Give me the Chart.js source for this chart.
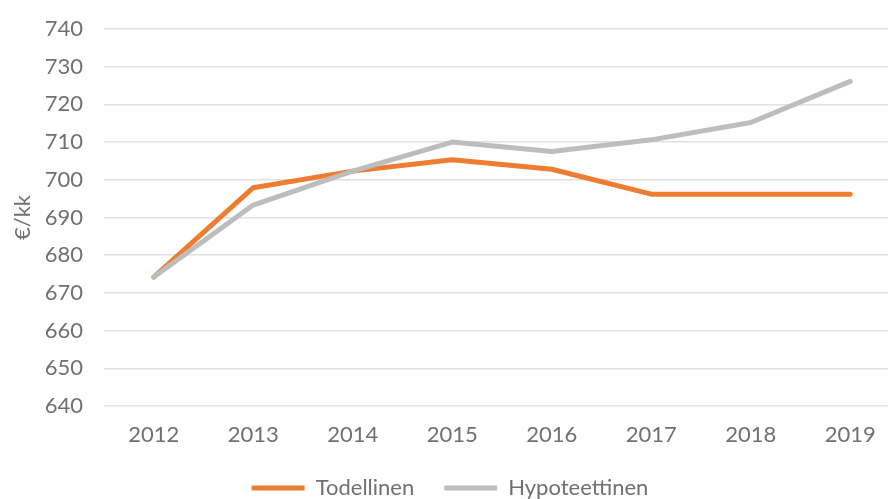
<!DOCTYPE html>
<html>
<head>
<meta charset="utf-8">
<script src="https://cdn.jsdelivr.net/npm/chart.js@4/dist/chart.umd.min.js"></script>
<style>
    html, body { margin: 0; padding: 0; background: #fff; overflow: hidden; }
    #wrap { width: 888px; height: 499px; overflow: hidden; }
    canvas { display: block; }
</style>
</head>
<body>
<div id="wrap">
    <canvas id="trendChart" width="900" height="509"></canvas>
</div>
<script>
const years = ['2012', '2013', '2014', '2015', '2016', '2017', '2018', '2019'];
const todellinen = [674.2, 697.9, 702.3, 705.3, 702.8, 696.2, 696.2, 696.2];
const hypoteettinen = [674.2, 693.3, 702.3, 710.0, 707.5, 710.6, 715.2, 726.1];
const yMin = 640;
const yMax = 740;
const yStep = 10;

const textColor = '#707070';
const fontFamily = 'Lato, "Open Sans", sans-serif';

const ctx = document.getElementById('trendChart').getContext('2d');

new Chart(ctx, {
    type: 'line',
    data: {
        labels: years,
        datasets: [{
            label: 'Todellinen',
            data: todellinen,
            borderColor: '#ED7D31',
            backgroundColor: '#ED7D31',
            borderWidth: 5,
            borderCapStyle: 'round',
            borderJoinStyle: 'round',
            pointRadius: 0,
            tension: 0,
            order: 1
        }, {
            label: 'Hypoteettinen',
            data: hypoteettinen,
            borderColor: '#BDBDBD',
            backgroundColor: '#BDBDBD',
            borderWidth: 5,
            borderCapStyle: 'round',
            borderJoinStyle: 'round',
            pointRadius: 0,
            tension: 0,
            order: 0
        }]
    },
    options: {
        responsive: false,
        animation: false,
        layout: {
            padding: { top: 29, right: 0, left: 0, bottom: 0 }
        },
        plugins: {
            legend: {
                position: 'bottom',
                labels: {
                    usePointStyle: true,
                    pointStyle: 'line',
                    pointStyleWidth: 53,
                    padding: 30,
                    color: textColor,
                    font: { family: fontFamily, size: 22 },
                    sort: (a, b) => a.datasetIndex - b.datasetIndex
                }
            },
            tooltip: { enabled: false }
        },
        scales: {
            x: {
                offset: true,
                afterFit: (scale) => { scale.height = 41; },
                grid: { display: false, drawTicks: false },
                border: { display: false },
                ticks: {
                    color: textColor,
                    padding: 16,
                    font: { family: fontFamily, size: 22 }
                }
            },
            y: {
                min: yMin,
                max: yMax,
                afterFit: (scale) => {
                    scale.width = 104;
                    scale.paddingTop = 0;
                    scale.paddingBottom = 0;
                },
                grid: { color: '#e0e0e0', lineWidth: 1.5, drawTicks: false },
                border: { display: false },
                ticks: {
                    stepSize: yStep,
                    color: textColor,
                    padding: 21,
                    font: { family: fontFamily, size: 22 }
                },
                title: {
                    display: true,
                    text: '€/kk',
                    color: textColor,
                    padding: { top: 10, bottom: 0 },
                    font: { family: fontFamily, size: 22 }
                }
            }
        }
    }
});
</script>
</body>
</html>
